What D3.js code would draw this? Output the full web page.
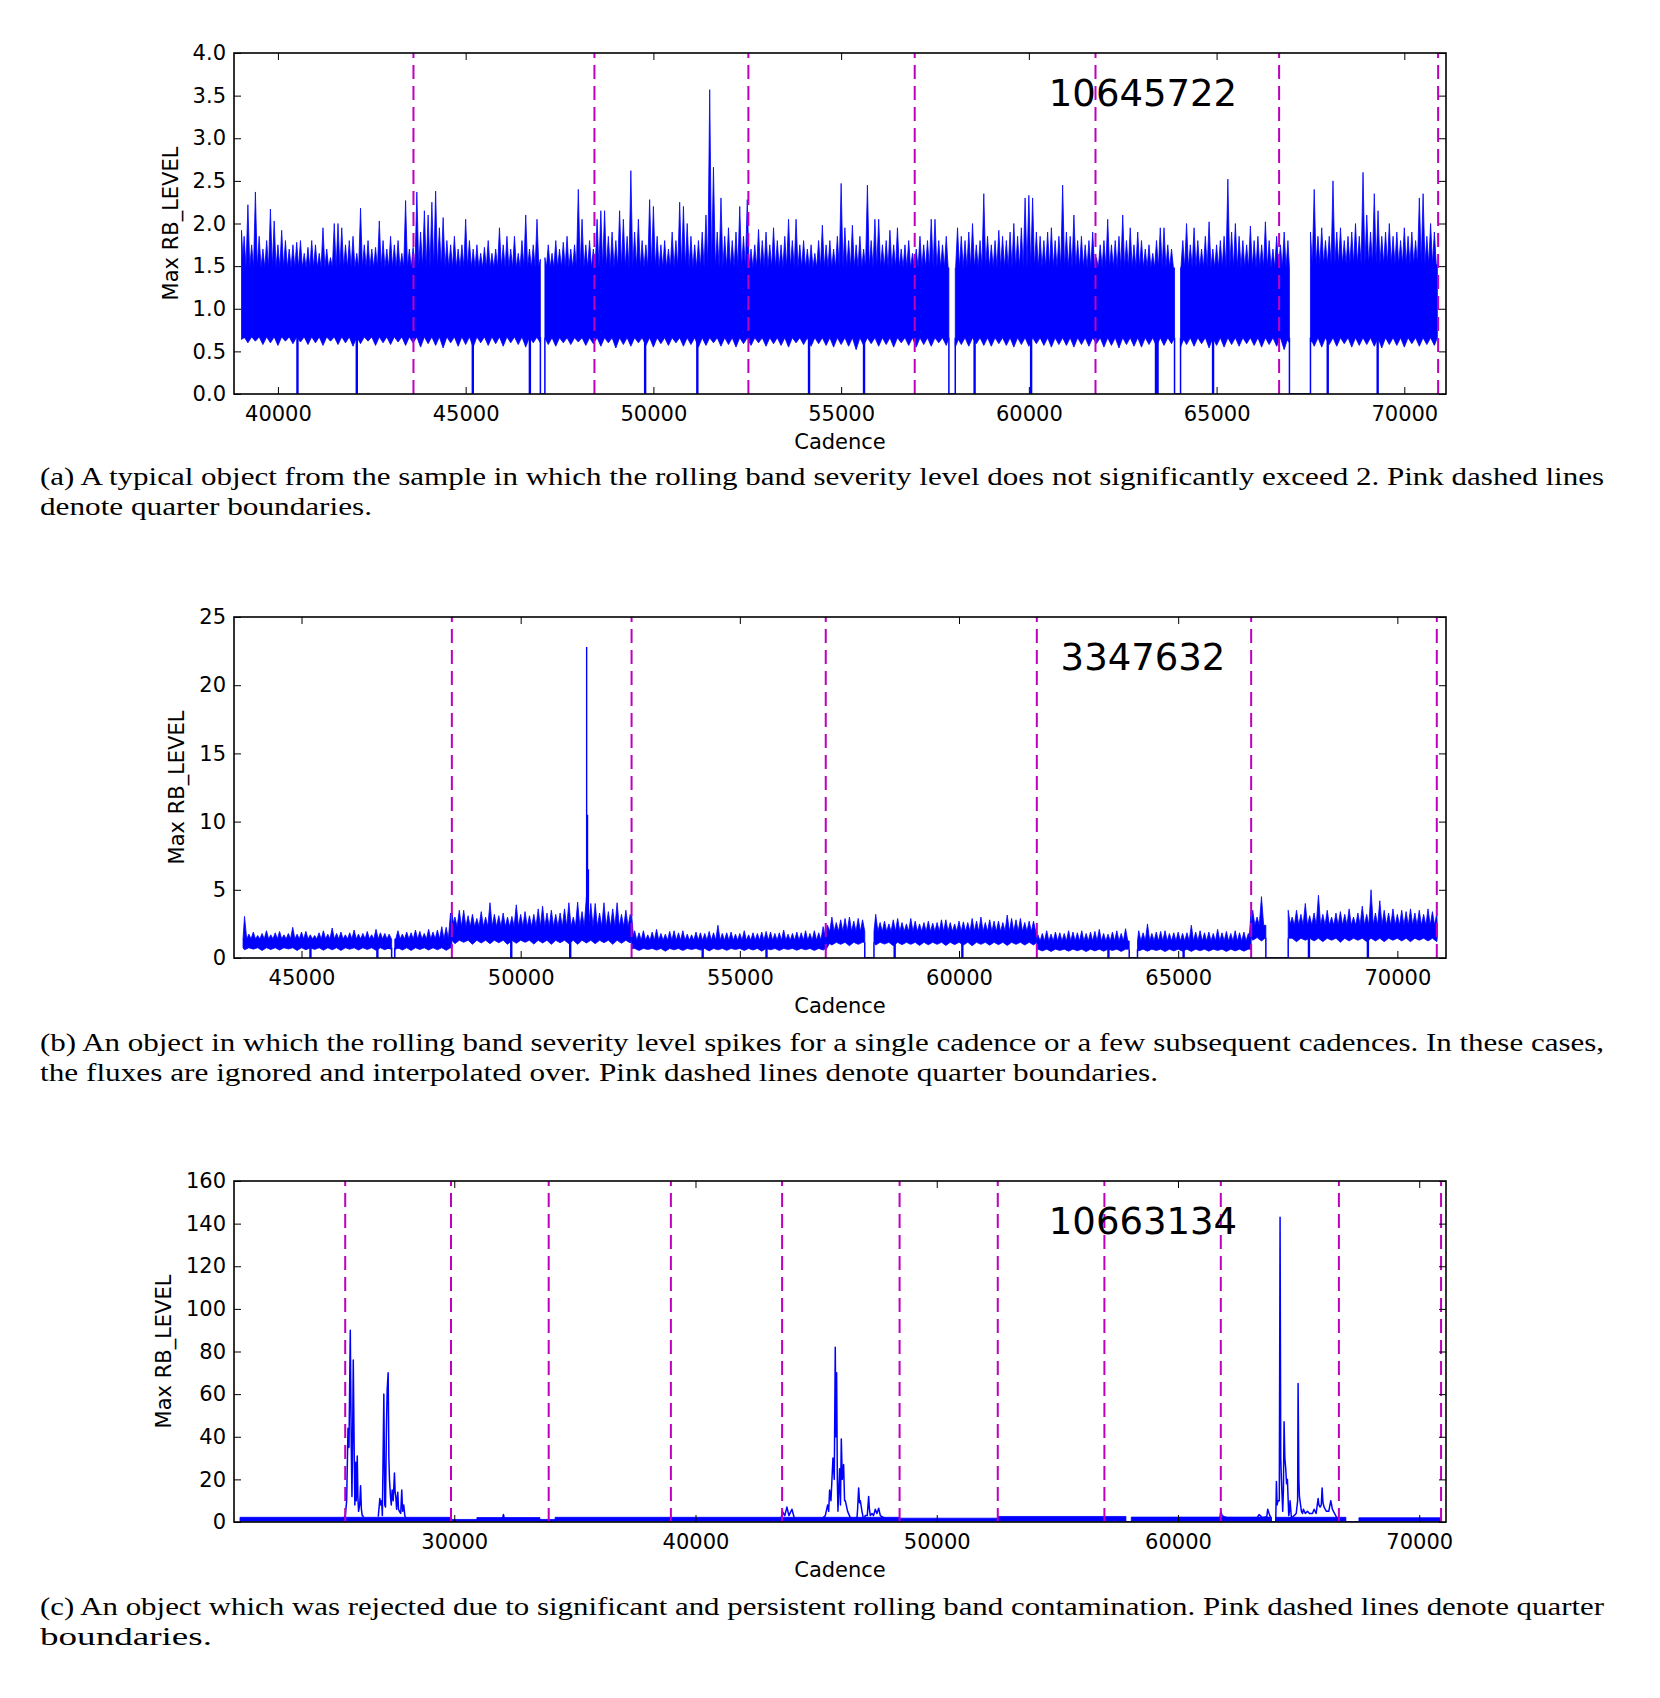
<!DOCTYPE html>
<html>
<head>
<meta charset="utf-8">
<script src="https://cdnjs.cloudflare.com/ajax/libs/d3/7.8.5/d3.min.js"></script>
<style>
  body { margin: 0; background: #fff; }
</style>
</head>
<body>
<div id="fig"></div>
<script>
// ---------- panel (a): 10645722 ----------
var aBands = [ // [first cadence, last cadence, lower edge, top of solid band]
  [39030, 46990, 0.67, 1.48],
  [47110, 57870, 0.66, 1.48],
  [58040, 63880, 0.66, 1.48],
  [64040, 66940, 0.66, 1.48],
  [67500, 70880, 0.66, 1.52]
];
var aPeakStart = 39000, aPeakStep = 100;
var aPeaks = [
  1.92,1.85,2.22,1.75,2.37,1.85,1.70,1.80,2.17,2.03, // 39000
  1.75,1.92,1.80,1.70,1.75,1.78,1.80,1.65,1.72,1.80, // 40000
  1.75,1.65,1.95,1.70,1.60,2.00,2.00,1.95,1.75,1.80, // 41000
  1.85,1.65,2.18,1.75,1.80,1.70,1.72,2.03,1.80,1.70, // 42000
  1.85,1.75,1.80,1.65,2.27,1.70,1.72,2.37,1.90,2.15, // 43000
  2.10,2.25,2.38,1.95,2.07,1.80,1.75,1.85,1.70,1.75, // 44000
  2.05,1.80,1.70,1.75,1.65,1.72,1.80,1.65,1.70,1.95, // 45000
  1.75,1.85,1.70,1.85,1.65,1.80,2.10,1.70,1.75,2.05, // 46000
  1.58,1.60,1.75,1.65,1.80,1.70,1.78,1.85,1.70,1.75, // 47000
  2.40,2.05,1.75,1.80,1.70,2.05,2.15,2.15,1.85,1.90, // 48000
  1.80,2.15,2.05,1.85,2.62,1.90,2.05,1.80,1.75,2.28, // 49000
  2.20,1.85,1.75,1.80,1.70,1.90,1.80,2.25,2.20,2.00, // 50000
  1.85,1.75,1.80,1.90,2.10,3.57,2.66,1.90,2.30,1.85, // 51000
  1.95,1.80,1.90,2.20,1.85,2.28,1.70,1.75,1.93,1.80, // 52000
  1.90,1.75,1.95,1.80,1.75,1.85,2.05,1.80,2.05,1.75, // 53000
  1.80,1.70,1.75,1.65,1.80,1.98,1.75,1.80,1.70,1.85, // 54000
  2.47,1.95,1.80,1.98,1.75,1.85,1.70,2.45,1.80,2.05, // 55000
  2.05,1.75,1.80,1.92,1.75,1.95,1.70,1.75,1.80,1.65, // 56000
  1.70,1.85,1.75,1.80,2.05,2.05,1.80,1.75,1.85,0,    // 57000
  0,1.95,1.85,1.80,1.90,2.00,1.75,1.80,2.35,1.85,    // 58000
  1.75,1.80,1.92,1.85,1.80,1.90,2.00,1.85,1.95,2.30, // 59000
  2.33,2.30,1.90,1.85,1.80,1.90,1.95,1.80,1.85,2.45, // 60000
  1.90,1.85,2.10,1.80,1.85,1.75,1.80,1.90,1.60,1.75, // 61000
  1.80,2.05,1.75,1.80,1.85,2.10,1.80,1.95,1.75,1.90, // 62000
  1.80,1.70,1.75,1.65,1.80,1.95,1.95,1.75,1.70,0,    // 63000
  0,1.80,2.00,1.75,1.95,1.80,1.70,1.85,2.02,1.70,    // 64000
  1.75,1.80,1.85,2.52,1.90,2.00,1.85,1.80,1.75,1.97, // 65000
  1.80,1.85,1.75,2.02,1.80,1.70,1.85,1.75,1.90,1.80, // 66000
  0,0,0,0,0,1.90,2.40,1.85,1.95,1.80,                // 67000
  1.85,2.50,1.90,1.95,1.80,1.85,1.90,2.00,1.85,2.60, // 68000
  2.10,1.90,2.35,2.15,1.85,1.90,2.00,1.85,1.90,1.80, // 69000
  1.95,1.85,1.90,1.80,2.30,2.35,1.85,2.00,1.90       // 70000
];
var aDipStart = 39000, aDipStep = 200;
var aDips = [
  0.64,0.60,0.62,0.58,0.60,0.57,0.62,0.59,0.61,0.58, // 39000
  0.60,0.57,0.62,0.58,0.60,0.56,0.59,0.62,0.57,0.60, // 41000
  0.58,0.61,0.57,0.60,0.55,0.59,0.57,0.54,0.60,0.56, // 43000
  0.58,0.55,0.60,0.57,0.59,0.56,0.60,0.58,0.55,0.60, // 45000
  0.60,0.58,0.56,0.60,0.58,0.61,0.57,0.59,0.56,0.60, // 47000
  0.54,0.58,0.56,0.60,0.57,0.55,0.59,0.57,0.60,0.56, // 49000
  0.58,0.55,0.57,0.60,0.56,0.58,0.55,0.59,0.57,0.60, // 51000
  0.56,0.59,0.57,0.55,0.60,0.58,0.56,0.59,0.57,0.55, // 53000
  0.58,0.56,0.52,0.57,0.59,0.56,0.58,0.55,0.60,0.57, // 55000
  0.55,0.58,0.56,0.60,0.57,0.55,0.58,0.56,0.59,0.57, // 57000
  0.56,0.59,0.57,0.55,0.58,0.56,0.59,0.57,0.55,0.58, // 59000
  0.57,0.55,0.58,0.56,0.59,0.55,0.57,0.54,0.58,0.56, // 61000
  0.55,0.58,0.56,0.57,0.59,0.55,0.58,0.56,0.59,0.54, // 63000
  0.57,0.55,0.58,0.56,0.59,0.57,0.55,0.58,0.56,0.52, // 65000
  0.60,0.60,0.60,0.56,0.55,0.58,0.56,0.59,0.55,0.57, // 67000
  0.58,0.56,0.54,0.58,0.57,0.55,0.59,0.56,0.58,0.57  // 69000
];
var aSpikes = [];
var aDrops = [40520, 42100, 45190, 46710, 49780, 51170, 54145, 55610, 58555,
              60060, 63386, 63427, 64906, 67960, 69290];
var aQuarterEnds = [43610, 48430, 52530, 56960, 61775, 66665, 70900];
var aXTicks = [40000, 45000, 50000, 55000, 60000, 65000, 70000];
var aYTicks = [0, 0.5, 1.0, 1.5, 2.0, 2.5, 3.0, 3.5, 4.0];

// ---------- panel (b): 3347632 ----------
var bBands = [
  [43666, 47056, 0.75, 1.40],
  [47128, 48430, 0.75, 1.40],
  [48430, 52530, 1.30, 2.30],
  [52530, 56960, 0.70, 1.30],
  [56960, 57850, 1.15, 1.95],
  [58060, 61775, 1.15, 1.95],
  [61775, 63883, 0.65, 1.25],
  [64072, 66665, 0.65, 1.25],
  [66665, 67000, 1.50, 2.40],
  [67510, 70910, 1.45, 2.40]
];
var bPeakStart = 43700, bPeakStep = 100;
var bPeaks = [
  3.05,1.75,1.90,1.65,1.80,2.00,1.70,1.85,1.95,1.70, // 43700
  1.80,2.25,1.75,1.90,1.95,1.70,1.65,1.85,2.00,1.75, // 44700
  2.20,1.80,1.90,1.70,1.85,2.05,1.75,1.80,1.95,1.70, // 45700
  2.10,1.85,1.80,1.75,0,2.00,1.75,1.90,1.85,2.05,    // 46700
  1.95,1.80,2.10,1.90,2.05,2.30,2.25,3.30,3.00,3.50, // 47700
  3.50,3.10,3.20,2.90,3.40,3.00,4.05,3.20,3.10,3.30, // 48700
  3.00,3.05,3.90,3.20,3.40,3.10,3.20,3.60,3.80,3.30, // 49700
  3.50,3.20,3.30,3.60,4.05,3.00,4.10,3.40,4.50,4.00, // 50700
  4.00,3.30,4.05,3.40,3.60,4.05,3.20,3.50,3.20,2.00, // 51700
  1.85,2.00,1.70,1.90,2.10,1.80,1.75,1.95,2.00,1.85, // 52700
  2.00,1.75,1.70,1.90,1.85,1.80,1.95,1.85,2.40,1.80, // 53700
  1.85,1.90,1.75,1.80,2.00,1.70,1.85,1.80,1.90,1.95, // 54700
  1.90,1.80,1.85,2.05,1.75,1.80,1.90,1.85,2.00,1.80, // 55700
  2.00,1.85,2.30,2.40,3.00,2.60,2.80,2.90,3.00,2.70, // 56700
  2.90,2.80,0,0,3.20,2.60,2.70,2.50,2.80,2.90,       // 57700
  2.60,2.50,2.90,2.70,2.50,2.60,2.70,2.55,2.60,2.80, // 58700
  2.80,2.60,2.50,2.70,2.65,2.60,2.90,2.70,3.00,2.60, // 59700
  2.80,2.70,2.70,2.60,3.15,2.90,2.80,2.90,2.60,2.70, // 60700
  2.70,1.70,1.80,2.00,1.75,1.90,1.85,1.80,2.00,1.90, // 61700
  1.85,2.00,1.80,1.90,1.95,2.10,1.80,1.75,1.90,2.00, // 62700
  1.80,2.15,0,0,2.00,1.85,2.50,1.80,1.90,1.95,       // 63700
  2.00,1.80,1.85,1.90,1.80,1.85,2.40,1.90,2.00,1.85, // 64700
  1.90,1.80,2.10,1.85,1.95,1.80,2.00,1.85,1.90,1.80, // 65700
  3.50,3.00,4.50,0,0,0,0,0,3.50,3.00,                // 66700
  3.50,3.20,4.00,3.10,3.30,4.60,3.20,3.50,3.00,3.30, // 67700
  3.40,3.20,3.60,3.00,3.30,3.80,3.20,5.00,3.30,4.20, // 68700
  3.50,3.30,3.60,3.20,3.50,3.40,3.60,3.30,3.50,3.20, // 69700
  3.60,3.40,3.30                                     // 70700
];
var bDipStart = 43700, bDipStep = 200;
var bDips = [
  0.60,0.65,0.55,0.62,0.58,0.66,0.55,0.60,0.63,0.57, // 43700
  0.60,0.55,0.64,0.58,0.62,0.56,0.60,0.63,0.58,0.55, // 45700
  0.62,0.58,0.60,0.56,1.05,1.15,1.00,1.10,1.05,1.12, // 47700
  1.00,1.08,1.15,1.02,1.10,1.00,1.12,1.05,1.00,1.10, // 49700
  1.05,1.12,1.00,1.08,1.10,0.55,0.62,0.58,0.50,0.60, // 51700
  0.55,0.62,0.58,0.52,0.60,0.56,0.62,0.55,0.58,0.50, // 53700
  0.60,0.55,0.62,0.57,0.60,0.55,0.58,0.95,1.00,0.90, // 55700
  1.00,0,0.95,1.02,0.90,0.98,1.00,0.92,0.97,1.00,    // 57700
  0.92,0.98,0.95,0.90,1.00,0.94,0.98,0.92,1.00,0.95, // 59700
  0.95,0.52,0.48,0.55,0.50,0.53,0.47,0.52,0.50,0.55, // 61700
  0.48,0,0.52,0.50,0.55,0.47,0.52,0.50,0.48,0.53,    // 63700
  0.50,0.55,0.48,0.52,0.50,1.30,1.25,0,0,0,          // 65700
  1.20,1.30,1.25,1.20,1.30,1.15,1.25,1.30,1.20,1.25, // 67700
  1.20,1.30,1.25,1.20,1.30,1.25,1.20                 // 69700
];
var bSpikes = [[51505, 22.8], [51525, 10.5], [51545, 6.5]];
var bDrops = [45204, 46731, 49785, 51130, 54152, 55608, 58532, 60076,
              63409, 65124, 67983, 69328];
var bQuarterEnds = [48430, 52530, 56960, 61775, 66665, 70900];
var bXTicks = [45000, 50000, 55000, 60000, 65000, 70000];
var bYTicks = [0, 5, 10, 15, 20, 25];

// ---------- panel (c): 10663134 ----------
var cBands = [
  [21118, 29865, 0.40, 2.20],
  [29865, 30940, 0.30, 1.20],
  [30940, 33550, 0.40, 2.10],
  [33550, 34180, 0.30, 1.20],
  [34180, 48460, 0.40, 2.20],
  [48460, 52530, 0.40, 1.80],
  [52530, 57843, 0.40, 2.60],
  [58064, 63872, 0.40, 2.30],
  [64052, 66960, 0.40, 2.20],
  [67500, 70880, 0.40, 2.00]
];
var cBursts = [
  [[25400,1.5],[25483,3],[25540,10],[25595,44],[25636,35],[25690,90],[25731,35],[25760,12],
   [25787,40],[25814,76],[25855,30],[25880,8],[25910,28],[25940,10],[25979,31],[26005,12],
   [26034,5],[26080,8],[26117,17],[26150,6],[26186,3],[26250,2.5]],
  [[26850,2.5],[26916,11],[26950,8],[26990,10],[27020,3],[27081,60],[27120,8],[27150,7],
   [27190,45],[27219,62],[27260,70],[27290,30],[27315,20],[27356,12],[27390,8],[27425,15],
   [27470,10],[27521,23],[27550,14],[27576,12],[27610,6],[27659,14],[27690,6],[27728,5],
   [27780,4],[27824,15],[27860,5],[27907,8],[27950,3],[28000,1.5]],
  [[32000,1.5],[32038,3.5],[32080,1.5]],
  [[43550,1.5],[43600,5],[43700,3],[43790,7],[43872,3],[43997,6],[44094,2],[44150,1.5]],
  [[45250,1.5],[45380,3],[45477,8],[45520,5],[45560,15],[45615,10],[45698,30],[45753,20],
   [45794,82],[45820,40],[45850,70],[45880,20],[45905,5],[45974,25],[46010,8],[46044,39],
   [46085,20],[46140,27],[46180,10],[46210,10],[46306,5],[46417,2],[46555,1.5],[46694,2],
   [46720,6],[46763,16],[46800,9],[46832,10],[46901,5],[46970,1],[47039,3],[47120,3],
   [47178,12],[47210,6],[47247,3],[47316,4],[47380,3],[47454,6],[47520,4],[47593,6.5],
   [47662,3],[47800,2],[47900,1.5]],
  [[61740,2],[61775,5],[61830,3],[61900,2.5],[62000,2.2]],
  [[63250,1.5],[63360,3.5],[63500,2],[63680,2.5],[63720,6],[63775,4],[63845,2],[63872,0]],
  [[64052,0],[64080,19],[64110,8],[64149,10],[64200,10],[64232,143],[64260,30],[64287,20],
   [64342,5],[64370,15],[64398,47],[64430,30],[64467,25],[64500,18],[64536,20],[64591,3],
   [64620,5],[64647,10],[64702,2],[64813,3],[64900,4],[64960,10],[64979,65],[65010,20],
   [65034,12],[65117,5],[65160,4],[65200,6],[65280,4],[65366,5],[65450,4],[65573,4],
   [65643,6],[65726,4],[65809,11],[65840,8],[65892,7],[65940,8],[65975,16],[66010,9],
   [66058,7],[66100,6],[66155,5],[66250,5],[66335,10],[66400,6],[66446,5],[66584,2],
   [66680,1.5]]
];
var cQuarterEnds = [25480, 29865, 33915, 38980, 43590, 48460, 52530, 56950, 61775, 66670, 70905];
var cXTicks = [30000, 40000, 50000, 60000, 70000];
var cYTicks = [0, 20, 40, 60, 80, 100, 120, 140, 160];

var panels = [
  { id: "a", label: "10645722", top: 53, xDomain: [38830, 71110], yDomain: [0, 4],
    bands: aBands, peakStart: aPeakStart, peakStep: aPeakStep, peaks: aPeaks,
    dipStart: aDipStart, dipStep: aDipStep, dips: aDips,
    spikes: aSpikes, drops: aDrops, bursts: [], bounds: aQuarterEnds,
    xTicks: aXTicks, yTicks: aYTicks, yFormat: d3.format(".1f") },
  { id: "b", label: "3347632", top: 617, xDomain: [43460, 71110], yDomain: [0, 25],
    bands: bBands, peakStart: bPeakStart, peakStep: bPeakStep, peaks: bPeaks,
    dipStart: bDipStart, dipStep: bDipStep, dips: bDips,
    spikes: bSpikes, drops: bDrops, bursts: [], bounds: bQuarterEnds,
    xTicks: bXTicks, yTicks: bYTicks, yFormat: d3.format("d") },
  { id: "c", label: "10663134", top: 1181, xDomain: [20870, 71110], yDomain: [0, 160],
    bands: cBands, peakStart: 0, peakStep: 100, peaks: [],
    dipStart: 0, dipStep: 100, dips: [],
    spikes: [], drops: [], bursts: cBursts, bounds: cQuarterEnds,
    xTicks: cXTicks, yTicks: cYTicks, yFormat: d3.format("d") }
];

// caption lines with the widths they fill in the reference
var captions = [
  { y: 485, lines: [
    ["(a) A typical object from the sample in which the rolling band severity level does not significantly exceed 2. Pink dashed lines", 1564],
    ["denote quarter boundaries.", 332] ] },
  { y: 1051, lines: [
    ["(b) An object in which the rolling band severity level spikes for a single cadence or a few subsequent cadences. In these cases,", 1564],
    ["the fluxes are ignored and interpolated over. Pink dashed lines denote quarter boundaries.", 1118] ] },
  { y: 1615, lines: [
    ["(c) An object which was rejected due to significant and persistent rolling band contamination. Pink dashed lines denote quarter", 1564],
    ["boundaries.", 172] ] }
];

var W = 1660, H = 1698;
var left = 234, right = 1446, plotH = 341;
var blue = "#0000ff", magenta = "#bf00bf";
var sans = "DejaVu Sans";

var svg = d3.select("#fig").append("svg")
    .attr("width", W)
    .attr("height", H)
    .style("background", "#fff");

// one edge of a band: flat level with a spike at every sample beyond it
function edgePoints(s, e, base, start, step, vals, up) {
  var half = step / 2;
  var pts = [[s, base]];
  vals.forEach(function(v, i) {
    var c = start + i * step;
    if (c < s - half || c > e + half) return;
    if (up ? v <= base : (v >= base || v <= 0)) return;
    var cc = Math.max(s, Math.min(e, c));
    pts.push([Math.max(s, cc - half), base]);
    pts.push([cc, v]);
    pts.push([Math.min(e, cc + half), base]);
  });
  pts.push([e, base]);
  return pts;
}

function drawPanel(p) {
  var top = p.top, bottom = top + plotH;
  var x = d3.scaleLinear().domain(p.xDomain).range([left, right]);
  var y = d3.scaleLinear().domain(p.yDomain).range([bottom, top]);

  svg.append("clipPath").attr("id", "clip" + p.id)
    .append("rect")
    .attr("x", left).attr("y", top)
    .attr("width", right - left).attr("height", plotH);

  var g = svg.append("g").attr("clip-path", "url(#clip" + p.id + ")");
  var line = d3.line().x(function(d) { return x(d[0]); }).y(function(d) { return y(d[1]); });

  // noise band: spikes upward from the solid top, dips below the bottom
  p.bands.forEach(function(b) {
    var topPts = edgePoints(b[0], b[1], b[3], p.peakStart, p.peakStep, p.peaks, true);
    var botPts = edgePoints(b[0], b[1], b[2], p.dipStart, p.dipStep, p.dips, false);
    g.append("path")
      .attr("d", line(topPts.concat(botPts.reverse())) + "Z")
      .attr("fill", blue)
      .attr("stroke", blue)
      .attr("stroke-width", 0.8)
      .attr("stroke-linejoin", "round");
  });

  // gaps: the series falls to zero between data stretches
  for (var i = 1; i < p.bands.length; i++) {
    var prev = p.bands[i - 1], next = p.bands[i];
    if (next[0] - prev[1] < 2) continue;
    g.append("path")
      .attr("d", line([[prev[1], prev[2]], [prev[1], 0], [next[0], 0], [next[0], next[2]]]))
      .attr("fill", "none").attr("stroke", blue).attr("stroke-width", 1.5);
  }

  // single missing cadences
  p.drops.forEach(function(d) {
    var band = p.bands.find(function(b) { return d >= b[0] && d <= b[1]; });
    var lo = band ? band[2] : 1;
    g.append("path")
      .attr("d", line([[d, lo], [d, 0]]))
      .attr("fill", "none").attr("stroke", blue).attr("stroke-width", 2.4);
  });

  // isolated narrow spikes
  p.spikes.forEach(function(s) {
    var band = p.bands.find(function(b) { return s[0] >= b[0] && s[0] <= b[1]; });
    g.append("path")
      .attr("d", line([[s[0], band[3]], [s[0], s[1]]]))
      .attr("fill", "none").attr("stroke", blue).attr("stroke-width", 1.4);
  });

  // bursts
  p.bursts.forEach(function(b) {
    g.append("path")
      .attr("d", line(b))
      .attr("fill", "none").attr("stroke", blue)
      .attr("stroke-width", 1.5).attr("stroke-linejoin", "round");
  });

  // quarter boundaries
  p.bounds.forEach(function(q) {
    g.append("line")
      .attr("x1", x(q)).attr("x2", x(q))
      .attr("y1", bottom).attr("y2", top)
      .attr("stroke", magenta).attr("stroke-width", 2)
      .attr("stroke-dasharray", "14,7");
  });

  // axes
  var gx = svg.append("g")
    .attr("transform", "translate(0," + bottom + ")")
    .call(d3.axisBottom(x).tickValues(p.xTicks).tickSize(-7).tickPadding(12).tickFormat(d3.format("d")));
  var gxt = svg.append("g")
    .attr("transform", "translate(0," + top + ")")
    .call(d3.axisTop(x).tickValues(p.xTicks).tickSize(-7).tickFormat(""));
  var gy = svg.append("g")
    .attr("transform", "translate(" + left + ",0)")
    .call(d3.axisLeft(y).tickValues(p.yTicks).tickSize(-7).tickPadding(8).tickFormat(p.yFormat));
  var gyr = svg.append("g")
    .attr("transform", "translate(" + right + ",0)")
    .call(d3.axisRight(y).tickValues(p.yTicks).tickSize(-7).tickFormat(""));

  [gx, gxt, gy, gyr].forEach(function(a) {
    a.select(".domain").remove();
    a.attr("font-family", sans).attr("font-size", 21);
    a.selectAll("line").attr("stroke", "#000").attr("stroke-width", 1);
    a.selectAll("text").attr("fill", "#000");
  });

  // frame
  svg.append("rect")
    .attr("x", left).attr("y", top)
    .attr("width", right - left).attr("height", plotH)
    .attr("fill", "none").attr("stroke", "#000").attr("stroke-width", 1.6);

  // axis titles
  svg.append("text")
    .attr("x", (left + right) / 2).attr("y", bottom + 55)
    .attr("text-anchor", "middle")
    .attr("font-family", sans).attr("font-size", 21)
    .text("Cadence");

  var minX = d3.min(gy.selectAll("text").nodes(), function(n) { return n.getBBox().x; });
  var lx = left + minX - 15;
  svg.append("text")
    .attr("transform", "translate(" + lx + "," + (top + plotH / 2) + ") rotate(-90)")
    .attr("text-anchor", "middle")
    .attr("font-family", sans).attr("font-size", 21)
    .text("Max RB_LEVEL");

  // object id
  svg.append("text")
    .attr("x", left + 0.75 * (right - left))
    .attr("y", top + 0.115 * plotH)
    .attr("dy", "0.36em")
    .attr("text-anchor", "middle")
    .attr("font-family", sans).attr("font-size", 37)
    .text(p.label);
}

panels.forEach(drawPanel);

captions.forEach(function(c) {
  c.lines.forEach(function(l, i) {
    svg.append("text")
      .attr("x", 40).attr("y", c.y + i * 29.5)
      .attr("font-family", "Liberation Serif").attr("font-size", 25)
      .attr("textLength", l[1]).attr("lengthAdjust", "spacingAndGlyphs")
      .text(l[0]);
  });
});
</script>
</body>
</html>
